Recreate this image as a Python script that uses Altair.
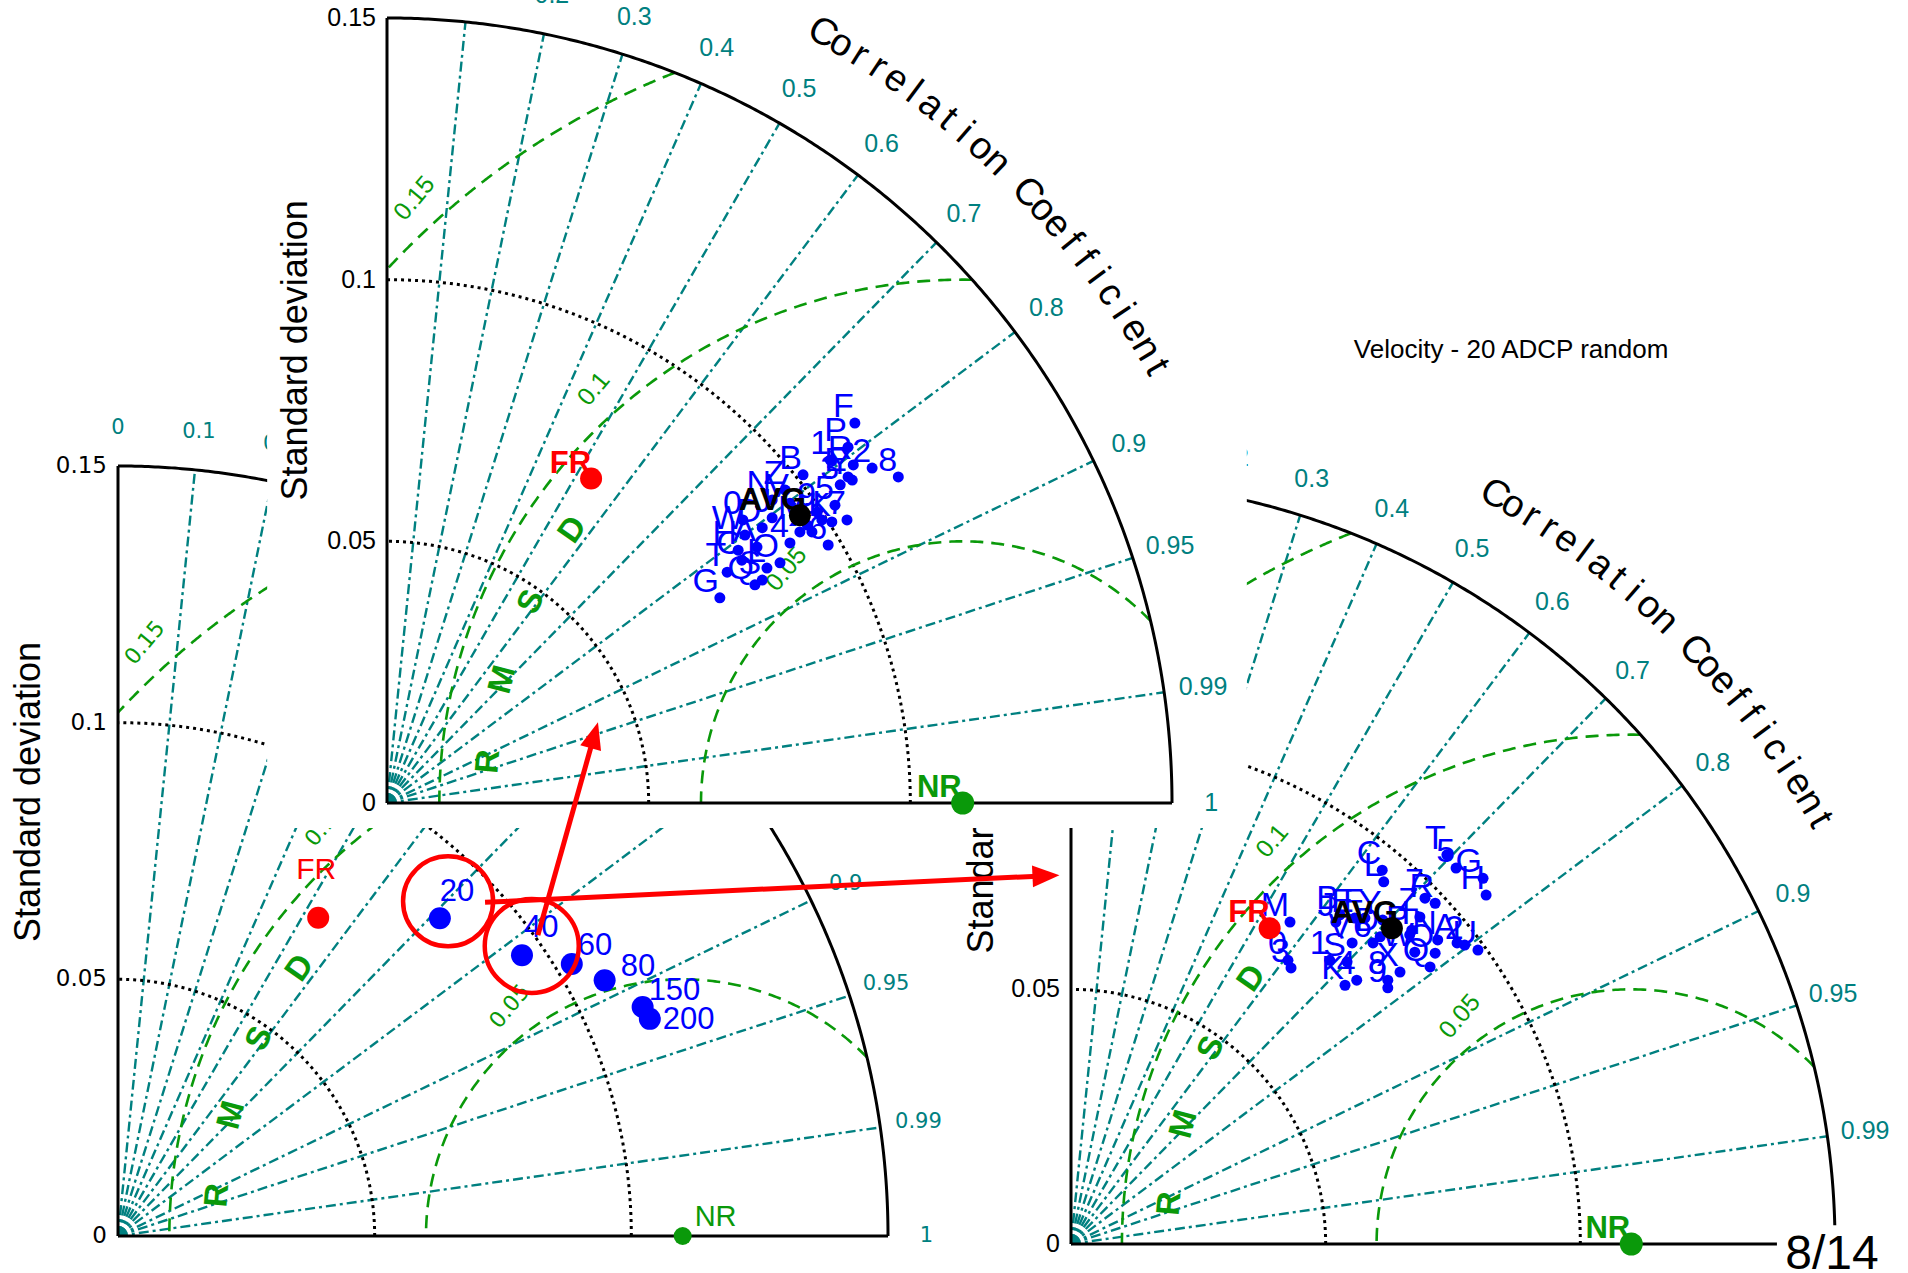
import math
import numpy as np
import pandas as pd
import altair as alt

# ---------------- values shared by the three Taylor diagrams ----------------
SD_MAX = 0.15          # outer standard-deviation circle
REF_SD = 0.11          # standard deviation of the reference run (NR)

sd_ticks = [0.0, 0.05, 0.10, 0.15]
sd_tick_text = ["0", "0.05", "0.1", "0.15"]
sd_grid = [0.05, 0.10]

corr_ticks = [0.0, 0.1, 0.2, 0.3, 0.4, 0.5, 0.6, 0.7, 0.8, 0.9, 0.95, 0.99, 1.0]
corr_tick_text = ["0", "0.1", "0.2", "0.3", "0.4", "0.5", "0.6", "0.7", "0.8",
                  "0.9", "0.95", "0.99", "1"]
corr_rays = [0.1, 0.2, 0.3, 0.4, 0.5, 0.6, 0.7, 0.8, 0.9, 0.95, 0.99]

rmsd_levels = [0.05, 0.10, 0.15]
rmsd_text = ["0.05", "0.1", "0.15"]
rmsd_label_angle = [127.0, 131.7, 132.2]     # degrees around NR

# free run (FR): (sd*R, sd*sqrt(1-R^2))
fr_sdx, fr_sdy = 0.039, 0.062

# ---------------- left diagram: number of assimilated ADCP ----------------
depth_labels = ["20", "40", "60", "80", "150", "200"]
depth_sdx = [0.0627, 0.0787, 0.0884, 0.0948, 0.1022, 0.1036]
depth_sdy = [0.0619, 0.0547, 0.0530, 0.0498, 0.0446, 0.0423]

# ---------------- top diagram: 40 ADCP, random members ----------------
top_labels = ["F", "P", "1", "R", "2", "8", "E", "3", "Y", "5", "9", "7",
              "K", "B", "N", "Z", "V", "U", "0", "D", "J", "H", "W", "4",
              "T", "C", "O", "S", "L", "G", "6", "A", "M", "X", "I", "Q"]
top_sdx = [0.0894, 0.0881, 0.0847, 0.0891, 0.0927, 0.0977, 0.0881, 0.0866, 0.0889,
           0.0856, 0.0822, 0.0879, 0.0850, 0.0795, 0.0736, 0.0761, 0.0770, 0.0831,
           0.0680, 0.0717, 0.0736, 0.0671, 0.0684, 0.0770, 0.0650, 0.0678, 0.0751,
           0.0717, 0.0726, 0.0636, 0.0843, 0.0707, 0.0803, 0.0812, 0.0789, 0.0703]
top_sdy = [0.0726, 0.0680, 0.0655, 0.0646, 0.0640, 0.0623, 0.0623, 0.0608, 0.0617,
           0.0569, 0.0556, 0.0541, 0.0537, 0.0627, 0.0579, 0.0598, 0.0573, 0.0541,
           0.0541, 0.0526, 0.0545, 0.0483, 0.0512, 0.0497, 0.0441, 0.0464, 0.0459,
           0.0426, 0.0449, 0.0392, 0.0493, 0.0489, 0.0531, 0.0518, 0.0518, 0.0417]
top_avg = (0.0789, 0.0550)

# ---------------- right diagram: 20 ADCP, random members ----------------
right_labels = ["C", "L", "T", "5", "G", "H", "R", "7", "Z", "I", "N", "A",
                "2", "U", "W", "O", "Q", "X", "8", "9", "V", "6", "S", "1",
                "K", "4", "B", "J", "E", "F", "Y", "D", "P", "M", "0", "3"]
right_sdx = [0.0611, 0.0614, 0.0738, 0.0756, 0.0809, 0.0815, 0.0715, 0.0695, 0.0685,
             0.0669, 0.0720, 0.0758, 0.0773, 0.0799, 0.0675, 0.0715, 0.0705, 0.0646,
             0.0622, 0.0622, 0.0552, 0.0593, 0.0542, 0.0508, 0.0538, 0.0561, 0.0528,
             0.0520, 0.0557, 0.0577, 0.0612, 0.0607, 0.0665, 0.0430, 0.0426, 0.0432]
right_sdy = [0.0734, 0.0711, 0.0764, 0.0738, 0.0718, 0.0685, 0.0669, 0.0679, 0.0642,
             0.0616, 0.0597, 0.0591, 0.0587, 0.0577, 0.0573, 0.0571, 0.0544, 0.0534,
             0.0518, 0.0503, 0.0591, 0.0591, 0.0554, 0.0557, 0.0508, 0.0518, 0.0646,
             0.0632, 0.0640, 0.0640, 0.0636, 0.0603, 0.0607, 0.0632, 0.0557, 0.0542]
right_avg = (0.0630, 0.0620)

right_title = "Velocity - 20 ADCP random"
page_label = "8/14"

# ---------------- layout (pixels) ----------------
W, H = 1908, 1273
LEFT = dict(x0=118, y0=1236, r=770)
TOP = dict(x0=387, y0=803, r=785)
RIGHT = dict(x0=1071, y0=1244, r=764)

TEAL = "#008080"
GREEN = "#0a990a"
BLUE = "#0000ff"
RED = "#ff0000"
FONT = "Liberation Sans"


def unit(p):
    return SD_MAX / p["r"]


def scales(p):
    xs = alt.Scale(domain=[0, SD_MAX], range=[p["x0"], p["x0"] + p["r"]], nice=False, zero=False)
    ys = alt.Scale(domain=[0, SD_MAX], range=[p["y0"], p["y0"] - p["r"]], nice=False, zero=False)
    return xs, ys


def enc(p, xf="x", yf="y", **extra):
    xs, ys = scales(p)
    e = dict(x=alt.X(f"{xf}:Q", scale=xs, axis=None), y=alt.Y(f"{yf}:Q", scale=ys, axis=None))
    e.update(extra)
    return e


def arcs_df(radii, n=181):
    parts = []
    a = np.radians(np.linspace(0, 90, n))
    for i, r in enumerate(radii):
        parts.append(pd.DataFrame({"id": i, "k": np.arange(n), "x": r * np.cos(a), "y": r * np.sin(a)}))
    return pd.concat(parts, ignore_index=True)


def rmsd_df(n=240):
    parts = []
    for i, rho in enumerate(rmsd_levels):
        xo = (SD_MAX ** 2 + REF_SD ** 2 - rho ** 2) / (2 * REF_SD)
        yo = math.sqrt(max(SD_MAX ** 2 - xo ** 2, 0.0))
        start = math.atan2(yo, xo - REF_SD)
        end = math.pi if rho <= REF_SD else math.acos(-REF_SD / rho)
        a = np.linspace(start, end, n)
        parts.append(pd.DataFrame({"id": i, "k": np.arange(n),
                                   "x": REF_SD + rho * np.cos(a), "y": rho * np.sin(a)}))
    return pd.concat(parts, ignore_index=True)


def white_box(p, x_lo, x_hi, y_lo, y_hi):
    df = pd.DataFrame({"x": [x_lo], "x2": [x_hi], "y": [y_lo], "y2": [y_hi]})
    return alt.Chart(df).mark_rect(fill="white").encode(**enc(p, x2="x2:Q", y2="y2:Q"))


def frame(p, tick_font, sd_size, corr_size, rmsd_size):
    layers = []
    c = np.array(corr_rays)
    rays = pd.DataFrame({"x": np.zeros_like(c), "y": np.zeros_like(c),
                         "x2": SD_MAX * c, "y2": SD_MAX * np.sqrt(1 - c ** 2)})
    layers.append(alt.Chart(rays).mark_rule(color=TEAL, strokeWidth=2.4, strokeDash=[10, 4, 3, 4])
                  .encode(**enc(p, x2="x2:Q", y2="y2:Q")))
    layers.append(alt.Chart(arcs_df(sd_grid)).mark_line(color="black", strokeWidth=3, strokeDash=[3, 4],
                                                       strokeCap="butt")
                  .encode(**enc(p, detail="id:N", order="k:Q")))
    layers.append(alt.Chart(rmsd_df()).mark_line(color=GREEN, strokeWidth=2.6, strokeDash=[13, 8])
                  .encode(**enc(p, detail="id:N", order="k:Q")))
    layers.append(alt.Chart(arcs_df([SD_MAX], n=361)).mark_line(color="black", strokeWidth=3)
                  .encode(**enc(p, detail="id:N", order="k:Q")))
    axes = pd.DataFrame({"x": [0.0, 0.0], "y": [0.0, 0.0], "x2": [0.0, SD_MAX], "y2": [SD_MAX, 0.0]})
    layers.append(alt.Chart(axes).mark_rule(color="black", strokeWidth=3)
                  .encode(**enc(p, x2="x2:Q", y2="y2:Q")))

    # standard deviation ticks
    sdl = pd.DataFrame({"x": 0.0, "y": sd_ticks, "t": sd_tick_text})
    layers.append(alt.Chart(sdl).mark_text(align="right", baseline="middle", dx=-11, font=tick_font,
                                           fontSize=sd_size, color="black")
                  .encode(**enc(p, text="t:N")))
    # correlation ticks
    cc = np.array(corr_ticks)
    cl = pd.DataFrame({"x": 0.1575 * cc, "y": 0.1575 * np.sqrt(1 - cc ** 2), "t": corr_tick_text})
    layers.append(alt.Chart(cl).mark_text(align="center", baseline="middle", font=tick_font,
                                          fontSize=corr_size, color=TEAL)
                  .encode(**enc(p, text="t:N")))
    # axis titles
    st = pd.DataFrame({"x": [-0.0174], "y": [0.0865], "t": ["Standard deviation"]})
    layers.append(alt.Chart(st).mark_text(angle=270, align="center", baseline="middle", font=FONT,
                                          fontSize=36, color="black")
                  .encode(**enc(p, text="t:N")))
    title = "Correlation Coefficient"
    phi = np.linspace(60.5, 29.5, len(title))
    ct = pd.DataFrame({"t": list(title), "x": 0.169 * np.cos(np.radians(phi)),
                       "y": 0.169 * np.sin(np.radians(phi)), "a": 90 - phi})
    ct = ct[ct["t"] != " "]
    layers.append(alt.Chart(ct).mark_text(align="center", baseline="middle", font=FONT, fontSize=38,
                                          color="black")
                  .encode(**enc(p, text="t:N", angle=alt.Angle("a:Q", scale=None))))
    # RMSD contour labels
    ra = np.radians(rmsd_label_angle)
    rr = np.array(rmsd_levels) + 0.006
    rl = pd.DataFrame({"x": REF_SD + rr * np.cos(ra), "y": rr * np.sin(ra), "t": rmsd_text})
    layers.append(alt.Chart(rl).mark_text(align="center", baseline="middle", angle=310, font=tick_font,
                                          fontSize=rmsd_size, color=GREEN)
                  .encode(**enc(p, text="t:N")))
    # "RMSD" written along the 0.1 contour
    la = np.array([175.0, 165.0, 155.0, 145.0])
    rm = pd.DataFrame({"t": list("RMSD"), "x": REF_SD + 0.091 * np.cos(np.radians(la)),
                       "y": 0.091 * np.sin(np.radians(la)), "a": 450 - la})
    layers.append(alt.Chart(rm).mark_text(align="center", baseline="middle", font=FONT, fontSize=33,
                                          fontWeight="bold", color=GREEN)
                  .encode(**enc(p, text="t:N", angle=alt.Angle("a:Q", scale=None))))
    return layers


def marker(p, x, y, size, color):
    df = pd.DataFrame({"x": [x], "y": [y]})
    return alt.Chart(df).mark_circle(size=size, color=color, opacity=1).encode(**enc(p))


def label(p, x, y, text, color, size, bold, align, baseline, dx, dy):
    df = pd.DataFrame({"x": [x], "y": [y], "t": [text]})
    return alt.Chart(df).mark_text(align=align, baseline=baseline, dx=dx, dy=dy, font=FONT, fontSize=size,
                                   fontWeight="bold" if bold else "normal", color=color
                                   ).encode(**enc(p, text="t:N"))


def ensemble(p, labels, sdx, sdy, avg):
    layers = []
    df = pd.DataFrame({"x": sdx, "y": sdy, "t": labels})
    layers.append(alt.Chart(df).mark_circle(size=121, color=BLUE, opacity=1).encode(**enc(p)))
    layers.append(alt.Chart(df).mark_text(align="right", baseline="alphabetic", dx=-1, dy=-6, font=FONT,
                                          fontSize=34, color=BLUE).encode(**enc(p, text="t:N")))
    layers.append(marker(p, REF_SD, 0.0, 529, GREEN))
    layers.append(label(p, REF_SD, 0.0, "NR", GREEN, 31, True, "right", "alphabetic", -1, -6))
    layers.append(marker(p, fr_sdx, fr_sdy, 484, RED))
    layers.append(label(p, fr_sdx, fr_sdy, "FR", RED, 31, True, "right", "alphabetic", 0, -6))
    layers.append(marker(p, avg[0], avg[1], 484, "black"))
    layers.append(label(p, avg[0], avg[1], "AVG", "black", 32, True, "right", "alphabetic", 6, -5))
    return layers


layers = []

# ----- left diagram -----
layers += frame(LEFT, "DejaVu Sans", 23, 21, 22)
u = unit(LEFT)
nudge_dx = [0, 2, 6, 16, 6, 13]
nudge_dy = [-26, -27, -18, -13, -16, 1]
dep = pd.DataFrame({"x": depth_sdx, "y": depth_sdy, "t": depth_labels})
dep["lx"] = dep["x"] + np.array(nudge_dx) * u
dep["ly"] = dep["y"] - np.array(nudge_dy) * u
layers.append(marker(LEFT, REF_SD, 0.0, 324, GREEN))
layers.append(label(LEFT, REF_SD, 0.0, "NR", GREEN, 29, False, "left", "middle", 12, -19))
layers.append(marker(LEFT, fr_sdx, fr_sdy, 484, RED))
layers.append(label(LEFT, fr_sdx, fr_sdy, "FR", RED, 30, False, "center", "alphabetic", -2, -39))
layers.append(alt.Chart(dep).mark_circle(size=484, color=BLUE, opacity=1).encode(**enc(LEFT)))
layers.append(alt.Chart(dep).mark_text(align="left", baseline="middle", font=FONT, fontSize=31, color=BLUE)
              .encode(**enc(LEFT, xf="lx", yf="ly", text="t:N")))

# ----- right diagram -----
layers.append(white_box(RIGHT, -0.0208, 0.17, -0.01, 0.158))
layers += frame(RIGHT, FONT, 25, 25, 25)
layers += ensemble(RIGHT, right_labels, right_sdx, right_sdy, right_avg)

# ----- top diagram -----
layers.append(white_box(TOP, -0.0229, 0.1643, -0.0048, 0.16))
layers += frame(TOP, FONT, 25, 25, 25)
layers += ensemble(TOP, top_labels, top_sdx, top_sdy, top_avg)

# ----- highlight of the 20 and 40 ADCP runs, with arrows to their diagrams -----
rings = pd.DataFrame({"x": [0.0643, 0.0806], "y": [0.0652, 0.0565], "s": [8100, 8836]})
layers.append(alt.Chart(rings).mark_point(shape="circle", filled=False, color=RED, strokeWidth=4.5, opacity=1)
              .encode(**enc(LEFT, size=alt.Size("s:Q", scale=None))))

arrows = pd.DataFrame({"x": [0.0818, 0.0715], "y": [0.0586, 0.0650],
                       "tx": [0.0935, 0.1834], "ty": [0.1001, 0.0703]})
dxy = np.hypot(arrows["tx"] - arrows["x"], arrows["ty"] - arrows["y"])
back = 16 * u
arrows["x2"] = arrows["tx"] - (arrows["tx"] - arrows["x"]) / dxy * back
arrows["y2"] = arrows["ty"] - (arrows["ty"] - arrows["y"]) / dxy * back
arrows["a"] = np.degrees(np.arctan2(arrows["tx"] - arrows["x"], arrows["ty"] - arrows["y"])) % 360
layers.append(alt.Chart(arrows).mark_rule(color=RED, strokeWidth=5)
              .encode(**enc(LEFT, x2="x2:Q", y2="y2:Q")))
heads = arrows[["tx", "ty", "a"]].rename(columns={"tx": "x", "ty": "y"})
layers.append(alt.Chart(heads).mark_point(shape="M0,0L-0.8,2L0.8,2Z", filled=True, color=RED, size=729,
                                          opacity=1)
              .encode(**enc(LEFT, angle=alt.Angle("a:Q", scale=None))))

# ----- titles on the page -----
layers.append(label(RIGHT, 0.0864, 0.1755, right_title, "black", 26, False, "center", "middle", 0, 0))
layers.append(white_box(RIGHT, 0.1386, 0.17, -0.01, 0.0037))
layers.append(label(RIGHT, 0.1494, -0.0049, page_label, "black", 48, False, "center", "alphabetic", 0, 0))

chart = (
    alt.layer(*layers)
    .resolve_scale(x="independent", y="independent")
    .properties(width=W, height=H, autosize=alt.AutoSizeParams(type="none"), padding=0,
                background="white")
    .configure_view(stroke=None)
)

chart.save("out.html", embed_options={"renderer": "svg", "actions": False})
